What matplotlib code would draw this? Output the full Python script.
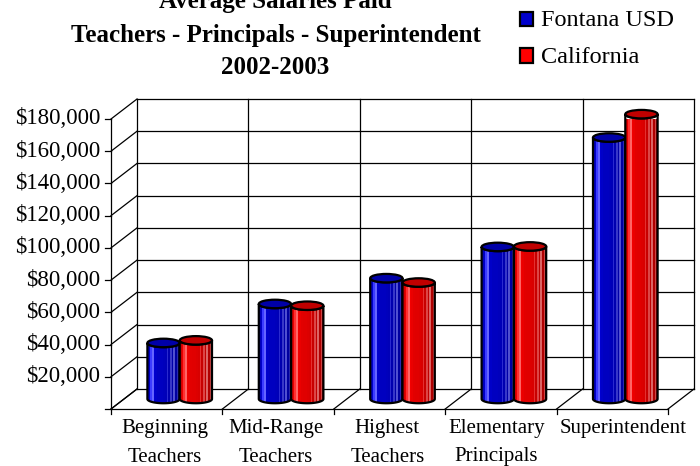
import numpy as np
import matplotlib
matplotlib.use("Agg")
import matplotlib.pyplot as plt
from matplotlib.patches import Polygon, Rectangle, Ellipse
from matplotlib import transforms

# ---------------- data ----------------
categories = [("Beginning", "Teachers"), ("Mid-Range", "Teachers"),
              ("Highest", "Teachers"), ("Elementary", "Principals"),
              ("Superintendent", "")]
series_names = ["Fontana USD", "California"]
fontana = [34800, 59000, 75000, 94400, 162300]
california = [36400, 57900, 72300, 94700, 176800]
yticks = list(range(20000, 180001, 20000))
title_lines = ["Average Salaries Paid",
               "Teachers - Principals - Superintendent",
               "2002-2003"]

# ---------------- style ----------------
W, H = 700, 466
FONT = "Liberation Serif"
blue_cols = ['#0000b8', '#0000c8', '#3a3aff', '#6464ff', '#0000d0', '#0000c8',
             '#0000c0', '#0000c0', '#0000c0', '#0000c0', '#0000bc', '#0000b8',
             '#2a2ad0', '#0000b0', '#3838c8', '#0000a8', '#5050d0', '#0000a0',
             '#2a2ab0', '#000090']
red_cols = ['#d00000', '#e80000', '#ff3030', '#ff6464', '#f20000', '#ea0000',
            '#e20000', '#e00000', '#e00000', '#e00000', '#dc0000', '#d80000',
            '#e43030', '#c80000', '#dc4646', '#c00000', '#dc6464', '#b00000',
            '#cc4444', '#a00000']
top_cols = ['#0000a8', '#c00000']
legend_cols = ['#0000cc', '#ff0000']
label_shift = [-0.02, -0.02, -0.02, -0.04, 0.10]

fig = plt.figure(figsize=(W / 100, H / 100), dpi=100)
fig.patch.set_facecolor("white")
# front plane of the 3D box
ax = fig.add_axes([111 / W, (H - 409) / H, 557 / W, 290 / H])
ax.set_xlim(0, len(categories))
ax.set_ylim(0, 180000)
ax.axis("off")

px_x = len(categories) / 557.0       # data units per pixel (x)
px_y = 180000 / 290.0                # data units per pixel (y)
DX, DY = 26 * px_x, 20 * px_y        # depth offset
n = len(categories)
lc = "black"
lw = 0.9

# back wall grid
for t in [0] + yticks:
    ax.plot([DX, n + DX], [t + DY, t + DY], color=lc, lw=lw, clip_on=False)
for i in range(n + 1):
    ax.plot([i + DX, i + DX], [DY, 180000 + DY], color=lc, lw=lw, clip_on=False)
# side wall diagonals + front axis ticks
for t in [0] + yticks:
    ax.plot([0, DX], [t, t + DY], color=lc, lw=lw, clip_on=False)
    ax.plot([-6 * px_x, 0], [t, t], color=lc, lw=lw, clip_on=False)
ax.plot([0, 0], [0, 180000], color=lc, lw=lw, clip_on=False)
# floor
ax.plot([0, n], [0, 0], color=lc, lw=lw, clip_on=False)
for i in range(n + 1):
    ax.plot([i, i + DX], [0, DY], color=lc, lw=lw, clip_on=False)
    ax.plot([i, i], [0, -5 * px_y], color=lc, lw=lw, clip_on=False)

# cylinders (standing at mid depth)
bw = 0.29
eh = 8.5 * px_y
ox, oy = DX / 2, DY / 2


def cylinder(xc, v, cols, topc, z):
    x0, x1 = xc - bw / 2, xc + bw / 2
    y0, y1 = oy, v + oy
    th = np.linspace(np.pi, 2 * np.pi, 40)
    ex = xc + bw / 2 * np.cos(th)
    ey = eh / 2 * np.sin(th)
    bottom = np.column_stack([ex, y0 + ey])
    top = np.column_stack([ex[::-1], y1 + ey[::-1]])
    body = np.vstack([bottom, top])
    poly = Polygon(body, closed=True, facecolor="none", edgecolor="none",
                   zorder=z, clip_on=False)
    ax.add_patch(poly)
    rgb = np.array([matplotlib.colors.to_rgb(c) for c in cols])[None, :, :]
    im = ax.imshow(rgb, extent=(x0, x1, y0 - eh / 2, y1), aspect="auto",
                   interpolation="nearest", zorder=z)
    im.set_clip_on(True)
    im.set_clip_path(poly)
    outline = Polygon(body, closed=True, facecolor="none", edgecolor="black",
                      lw=1.6, zorder=z + 0.1, clip_on=False)
    ax.add_patch(outline)
    ell = Ellipse((xc, y1), bw, eh, facecolor=topc, edgecolor="black",
                  lw=1.6, zorder=z + 0.2, clip_on=False)
    ax.add_patch(ell)


for i in range(n):
    cylinder(i + 0.5 - bw / 2 + ox, fontana[i], blue_cols, top_cols[0], 3)
    cylinder(i + 0.5 + bw / 2 + ox, california[i], red_cols, top_cols[1], 4)
ax.set_xlim(0, n)
ax.set_ylim(0, 180000)

# y tick labels
for t in yticks:
    ax.text(-11 * px_x, t, "${:,.0f}".format(t), ha="right", va="center",
            fontsize=16.5, family=FONT)

# category labels
bt = transforms.blended_transform_factory(ax.transData, fig.transFigure)
for i, (l1, l2) in enumerate(categories):
    xc = i + 0.5 + label_shift[i]
    ax.text(xc, (H - 433.5) / H, l1, transform=bt, ha="center",
            va="baseline", fontsize=15, family=FONT)
    if l2:
        ax.text(xc, (H - 461.5) / H, l2, transform=bt, ha="center",
                va="baseline", fontsize=15, family=FONT)

# title
for k, line in enumerate(title_lines):
    base = [8.3, 41.7, 74.5][k]
    fig.text(275.5 / W, (H - base) / H, line, ha="center", va="baseline",
             fontsize=18, fontweight="bold", family=FONT)

# legend
for k, name in enumerate(series_names):
    ytop = [11.7, 48.5][k]
    fig.patches.append(Rectangle((520 / W, (H - ytop - 14) / H), 13 / W, 14 / H,
                                 transform=fig.transFigure, facecolor=legend_cols[k],
                                 edgecolor="black", lw=1.6))
    fig.text(541 / W, (H - [26, 63][k]) / H, name, ha="left", va="baseline",
             fontsize=17.5, family=FONT)

fig.savefig("out.png", dpi=100, facecolor="white")
